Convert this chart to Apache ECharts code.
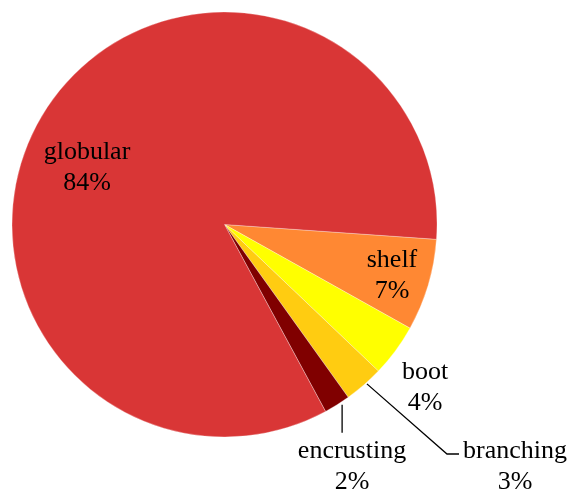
<!DOCTYPE html>
<html>
<head>
<meta charset="utf-8">
<script src="https://cdn.jsdelivr.net/npm/echarts@6/dist/echarts.min.js"></script>
<style>
  html, body { margin: 0; padding: 0; background: #fff; }
  #chart { width: 571px; height: 498px; }
</style>
</head>
<body>
<div id="chart"></div>
<script>
// Growth forms and their share of the sample (percent)
const categories = ['shelf', 'boot', 'branching', 'encrusting', 'globular'];
const shares = [7, 4, 3, 2, 84];
const colors = ['#ff8833', '#ffff00', '#ffcc11', '#800000', '#d93636'];

// Where each label is centred, and how its leader line runs (if any)
const labelSpots = {
  shelf:      { x: 392, y: 276 },
  boot:       { x: 425, y: 388 },
  branching:  { x: 515, y: 467, line: [[447, 454], [459, 454]] },
  encrusting: { x: 352, y: 467, line: 'down' },
  globular:   { x: 87,  y: 168 }
};

const serifFont = 'Liberation Serif';

const chart = echarts.init(document.getElementById('chart'), null, { renderer: 'canvas' });

chart.setOption({
  animation: false,
  backgroundColor: '#ffffff',
  textStyle: { fontFamily: serifFont },
  series: [{
    type: 'pie',
    center: [224.5, 224.5],
    radius: 212.5,
    startAngle: -4,
    clockwise: true,
    avoidLabelOverlap: false,
    percentPrecision: 0,
    data: categories.map((name, i) => ({
      name: name,
      value: shares[i],
      itemStyle: { color: colors[i] }
    })),
    itemStyle: { borderColor: 'rgba(255,255,255,0.6)', borderWidth: 0.5 },
    label: {
      show: true,
      position: 'outside',
      formatter: '{t|{b}\n{d}%}',
      fontFamily: serifFont,
      fontSize: 26,
      lineHeight: 31,
      color: '#000',
      align: 'center',
      rich: {
        t: { fontFamily: serifFont, fontSize: 26, lineHeight: 31, color: '#000', align: 'center' }
      }
    },
    labelLine: {
      show: true,
      length: 10,
      length2: 10,
      lineStyle: { color: '#000', width: 1.3 }
    },
    labelLayout: function (params) {
      const name = categories[params.dataIndex];
      const spot = labelSpots[name];
      const out = {
        x: spot.x,
        y: spot.y,
        align: 'center',
        verticalAlign: 'middle'
      };
      const p0 = params.labelLinePoints ? params.labelLinePoints[0] : null;
      if (spot.line === 'down' && p0) {
        const x = p0[0] + 5;
        out.labelLinePoints = [[x, p0[1]], [x, p0[1] + 28]];
      } else if (Array.isArray(spot.line) && p0) {
        out.labelLinePoints = [[p0[0] + 3, p0[1] - 1]].concat(spot.line);
      } else {
        out.labelLinePoints = p0 ? [p0, p0] : undefined;
      }
      return out;
    },
    emphasis: { disabled: true }
  }]
});
</script>
</body>
</html>
